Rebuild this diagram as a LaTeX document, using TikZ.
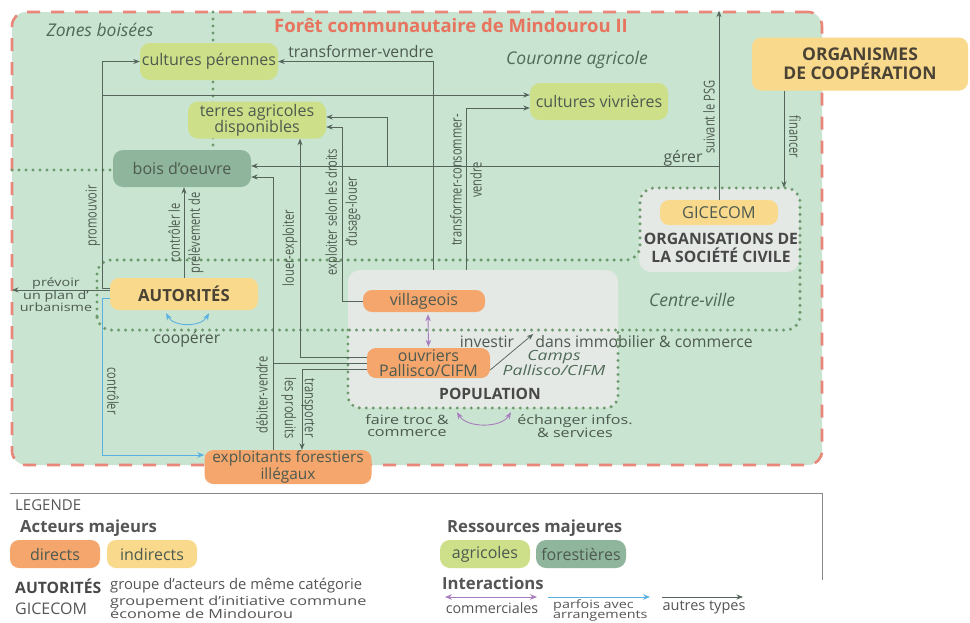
\documentclass[tikz,border=0pt]{standalone}
\usepackage{fontspec}
\setmainfont{Open Sans}
\newfontfamily\narrowsf[FakeStretch=0.74]{Open Sans}
\newfontfamily\widesf[FakeStretch=1.25]{Open Sans}
\newfontfamily\widersf[FakeStretch=1.3]{Open Sans}
\usetikzlibrary{arrows.meta}

\definecolor{forestbg}{HTML}{C9E4D0}
\definecolor{borderc}{HTML}{E8867A}
\definecolor{titlec}{HTML}{E8735F}
\definecolor{dotc}{HTML}{6E9B6E}
\definecolor{agri}{HTML}{CDDF88}
\definecolor{wood}{HTML}{8FB69C}
\definecolor{directc}{HTML}{F4A66C}
\definecolor{indirectc}{HTML}{F9D98C}
\definecolor{grp}{HTML}{E5E9E6}
\definecolor{linec}{HTML}{56655C}
\definecolor{txt}{HTML}{4D5A50}
\definecolor{zonec}{HTML}{4E6B57}
\definecolor{dark}{HTML}{4A4335}
\definecolor{grptxt}{HTML}{484848}
\definecolor{ctlblue}{HTML}{5BB0E2}
\definecolor{tradec}{HTML}{A77DC0}
\definecolor{legc}{HTML}{555555}

\tikzset{
  base/.style={inner sep=0pt, text=txt},
  res/.style={base, rounded corners=10pt, align=center, font=\fontsize{16}{16}\selectfont, minimum width=138pt, minimum height=37pt},
  agribox/.style={res, fill=agri},
  woodbox/.style={res, fill=wood},
  actor/.style={base, rounded corners=9pt, align=center, font=\fontsize{16}{15}\selectfont},
  directbox/.style={actor, fill=directc},
  indirectbox/.style={actor, fill=indirectc},
  grouparea/.style={fill=grp, rounded corners=12pt, inner sep=0pt},
  dots/.style={draw=dotc, line width=3.4pt, line cap=round, dash pattern=on 0pt off 7pt},
  link/.style={draw=linec, line width=0.75pt},
  conn/.style={link, -{Stealth[length=6.5pt,width=5pt]}},
  ctl/.style={draw=ctlblue, line width=0.9pt, -{Stealth[length=7pt,width=5.5pt]}},
  trade/.style={draw=tradec, line width=0.9pt, {Stealth[length=7pt,width=5.5pt]}-{Stealth[length=7pt,width=5.5pt]}},
  lbl/.style={base, font=\fontsize{15.8}{16}\selectfont},
  tightlbl/.style={base, align=center, font=\widesf\fontsize{12.9}{12}\selectfont},
  vlbl/.style={base, align=center, font=\narrowsf\fontsize{15}{20}\selectfont},
  zonelbl/.style={base, text=zonec, font=\itshape\fontsize{17.5}{18}\selectfont},
  grouplbl/.style={base, text=grptxt, align=center, font=\bfseries\fontsize{15.7}{18}\selectfont},
  leglbl/.style={base, text=legc, font=\fontsize{14.8}{15}\selectfont},
  legtight/.style={base, text=legc, align=left, font=\widersf\fontsize{12.5}{10.5}\selectfont},
  leghead/.style={base, text=legc, font=\bfseries\fontsize{16.7}{18}\selectfont},
}

\begin{document}
\begin{tikzpicture}[x=1pt,y=-1pt]
\useasboundingbox[fill=white] (0,0) rectangle (970,622);

% forest area
\node[base, fill=forestbg, draw=borderc, line width=2.6pt, dash pattern=on 13pt off 11pt,
      rounded corners=14pt, minimum width=810pt, minimum height=453pt] (foret) at (417,238.5) {};

% grouped actors
\node[grouparea, minimum width=270pt, minimum height=138pt] (pop) at (483,339) {};
\node[grouparea, minimum width=160pt, minimum height=84pt] (org) at (719,230) {};

% zone limits
\draw[dots] (213,12) -- (213,150);
\draw[dots] (12,170) -- (113,170);
\draw[dots, rounded corners=14pt] (97,330) -- (97,260) -- (640,260) -- (640,188) -- (800,188) -- (800,330) -- cycle;
\draw[dots, rounded corners=12pt] (348,330) -- (348,408) -- (618,408) -- (618,330);

% resources
\node[agribox] (perennes) at (209,61.5) {cultures pérennes};
\node[agribox] (terres) at (257,120) {terres agricoles\\disponibles};
\node[woodbox] (bois) at (182,168.5) {bois d’oeuvre};
\node[agribox] (vivrieres) at (599,101.5) {cultures vivrières};

% actors
\node[indirectbox, minimum width=148pt, minimum height=32pt, text=dark, font=\bfseries\fontsize{16.7}{17}\selectfont] (autorites) at (184,294) {AUTORITÉS};
\node[directbox, minimum width=122pt, minimum height=22pt] (villageois) at (424,301) {villageois};
\node[directbox, minimum width=123pt, minimum height=30pt, font=\fontsize{16}{15}\selectfont] (ouvriers) at (428.5,363) {ouvriers\\Pallisco/CIFM};
\node[directbox, minimum width=167pt, minimum height=34pt, font=\fontsize{15.4}{15}\selectfont] (exploitants) at (288,467) {exploitants forestiers\\illégaux};
\node[indirectbox, minimum width=118pt, minimum height=25pt, font=\fontsize{16.4}{16}\selectfont] (gicecom) at (719,212.5) {GICECOM};
\node[indirectbox, minimum width=216pt, minimum height=53pt, text=dark, font=\bfseries\fontsize{17.5}{19}\selectfont] (organismes) at (860,64) {ORGANISMES\\DE COOPÉRATION};

% junction points
\coordinate (pv) at (103,95);
\coordinate (urb) at (12,290);
\coordinate (dv) at (273,363);
\coordinate (ge) at (719,166);
\coordinate (gb) at (387,166);

% interactions
\draw[conn] ([xshift=-50pt]pop.north) |- (perennes.east);
\draw[conn] ([xshift=-17pt]pop.north) |- ([yshift=-6.5pt]vivrieres.west);
\draw[conn] ([yshift=6pt]autorites.west) -| ([xshift=-37pt]perennes.west) -- (perennes.west);
\draw[conn] (pv) -- ([yshift=6.5pt]vivrieres.west);
\draw[conn] ([yshift=4pt]autorites.west) -- (urb);
\draw[ctl] ([yshift=-4pt]autorites.west) -| ([xshift=-102pt,yshift=12pt]exploitants.west) -- ([yshift=12pt]exploitants.west);
\draw[conn] (autorites.north) -- (autorites.north |- bois.south);
\draw[ctl, {Stealth[length=7pt,width=5.5pt]}-{Stealth[length=7pt,width=5.5pt]}] ([xshift=-18pt,yshift=-3pt]autorites.south) .. controls +(8,14) and +(-8,14) .. ([xshift=25pt,yshift=-3pt]autorites.south);
\draw[conn] ([yshift=6pt]ouvriers.west) -| ([xshift=43pt]terres.south);
\draw[conn] ([xshift=-15pt]exploitants.north) |- ([yshift=-8.5pt]bois.east);
\draw[link] (ouvriers.west) -- (dv);
\draw[conn] ([yshift=-6pt]ouvriers.west) -| ([xshift=14pt]exploitants.north);
\draw[conn] (villageois.west) -| ([xshift=16.5pt,yshift=-7pt]terres.east) -- ([yshift=-7pt]terres.east);
\draw[conn] (gicecom.north) -- (gicecom.north |- foret.north);
\draw[conn] (ge) -- (ge -| bois.east);
\draw[conn] (gb) |- ([yshift=3pt]terres.east);
\draw[conn] ([xshift=-76pt]organismes.south) -- +(0,97);
\draw[conn] ([yshift=-7pt]ouvriers.east) -- ++(43,-36);
\draw[trade] ([xshift=4pt,yshift=-2pt]villageois.south) -- ([yshift=1pt]ouvriers.north);
\draw[trade] ([xshift=-26pt,yshift=-4pt]pop.south) .. controls +(10,16) and +(-10,16) .. ([xshift=28pt,yshift=-4pt]pop.south);

% interaction labels
\node[lbl] (tvlbl) at (361,52) {transformer-vendre};
\node[vlbl, rotate=90] (tcvlbl) at (466,180) {transformer-consommer-\\vendre};
\node[vlbl, rotate=90] (promlbl) at (93,216) {promouvoir};
\node[tightlbl, font=\widesf\fontsize{11.5}{12.5}\selectfont] (prevlbl) at (56,295) {prévoir\\un plan d’\\urbanisme};
\node[vlbl, rotate=-90] (ctrllbl) at (113,391) {contrôler};
\node[vlbl, rotate=90] (prelbl) at (186,233) {contrôler le\\prélèvement de};
\node[lbl] (cooplbl) at (187,339) {coopérer};
\node[vlbl, rotate=90] (louerlbl) at (290,248) {louer-exploiter};
\node[vlbl, rotate=90] (debitlbl) at (262,395) {débiter-vendre};
\node[vlbl, rotate=-90] (translbl) at (298,408) {transporter\\les produits};
\node[vlbl, rotate=90] (usagelbl) at (343,212) {exploiter selon les droits\\d’usage-louer};
\node[lbl] (gererlbl) at (683,158) {gérer};
\node[vlbl, rotate=90] (psglbl) at (709,117) {suivant le PSG};
\node[vlbl, rotate=-90] (finlbl) at (795,137) {financer};
\node[lbl] (invlbl) at (487,342) {investir};
\node[lbl] (immolbl) at (644,342) {dans immobilier \& commerce};
\node[tightlbl] (troclbl) at (407,426) {faire troc \&\\commerce};
\node[tightlbl] (echlbl) at (575,426) {échanger infos.\\\& services};

% zone and group names
\node[base, text=titlec, font=\bfseries\fontsize{18.5}{19}\selectfont] (titre) at (451,25) {Forêt communautaire de Mindourou II};
\node[zonelbl] (zb) at (100,30) {Zones boisées};
\node[zonelbl] (ca) at (577,60) {Couronne agricole};
\node[zonelbl] (cv) at (692,300) {Centre-ville};
\node[base, text=zonec, align=center, font=\widesf\itshape\fontsize{14}{12}\selectfont] (camps) at (554,363) {Camps\\Pallisco/CIFM};
\node[base, text=grptxt, font=\bfseries\fontsize{15.6}{16}\selectfont] (poplbl) at (490,394) {POPULATION};
\node[grouplbl] (osclbl) at (721,248) {ORGANISATIONS DE\\LA SOCIÉTÉ CIVILE};

% legend
\draw[draw=legc!70, line width=1pt] (10,493) -- (822,493) -- (822,580);
\node[leglbl, anchor=west, font=\fontsize{15}{15}\selectfont] (leg) at (15,505) {LEGENDE};
\node[leghead, anchor=west] (acteurs) at (20,528) {Acteurs majeurs};
\node[directbox, minimum width=90pt, minimum height=28pt] (ldirect) at (55,554) {directs};
\node[indirectbox, minimum width=90pt, minimum height=28pt] (lindirect) at (152,554) {indirects};
\node[base, anchor=west, text=grptxt, font=\bfseries\fontsize{15.7}{16}\selectfont] (lauto) at (15,586) {AUTORITÉS};
\node[leglbl, anchor=west] (lautotxt) at (110,586) {groupe d’acteurs de même catégorie};
\node[leglbl, anchor=west, font=\fontsize{16}{16}\selectfont] (lgic) at (15,609) {GICECOM};
\node[legtight, anchor=west] (lgictxt) at (110,607.5) {groupement d’initiative commune\\économe de Mindourou};
\node[leghead, anchor=west] (ressources) at (447,528) {Ressources majeures};
\node[agribox, minimum width=90pt, minimum height=28pt] (lagri) at (485,554) {agricoles};
\node[woodbox, minimum width=90pt, minimum height=28pt] (lwood) at (581,554) {forestières};
\node[leghead, anchor=west] (interactions) at (442,583) {Interactions};
\coordinate (lc1) at (445,597); \coordinate (lc2) at (537,597);
\coordinate (lb1) at (548,597); \coordinate (lb2) at (650,597);
\coordinate (lo1) at (662,597); \coordinate (lo2) at (743,597);
\draw[trade] (lc1) -- (lc2);
\draw[ctl] (lb1) -- (lb2);
\draw[conn] (lo1) -- (lo2);
\node[leglbl, font=\fontsize{14.3}{14}\selectfont] (lcomm) at (492,608) {commerciales};
\node[base, text=legc, align=left, anchor=west, font=\widesf\fontsize{11.5}{10.5}\selectfont] (larr) at (553,610.5) {parfois avec\\arrangements};
\node[leglbl, font=\fontsize{14.5}{14}\selectfont] (lautres) at (704,607) {autres types};
\end{tikzpicture}
\end{document}
